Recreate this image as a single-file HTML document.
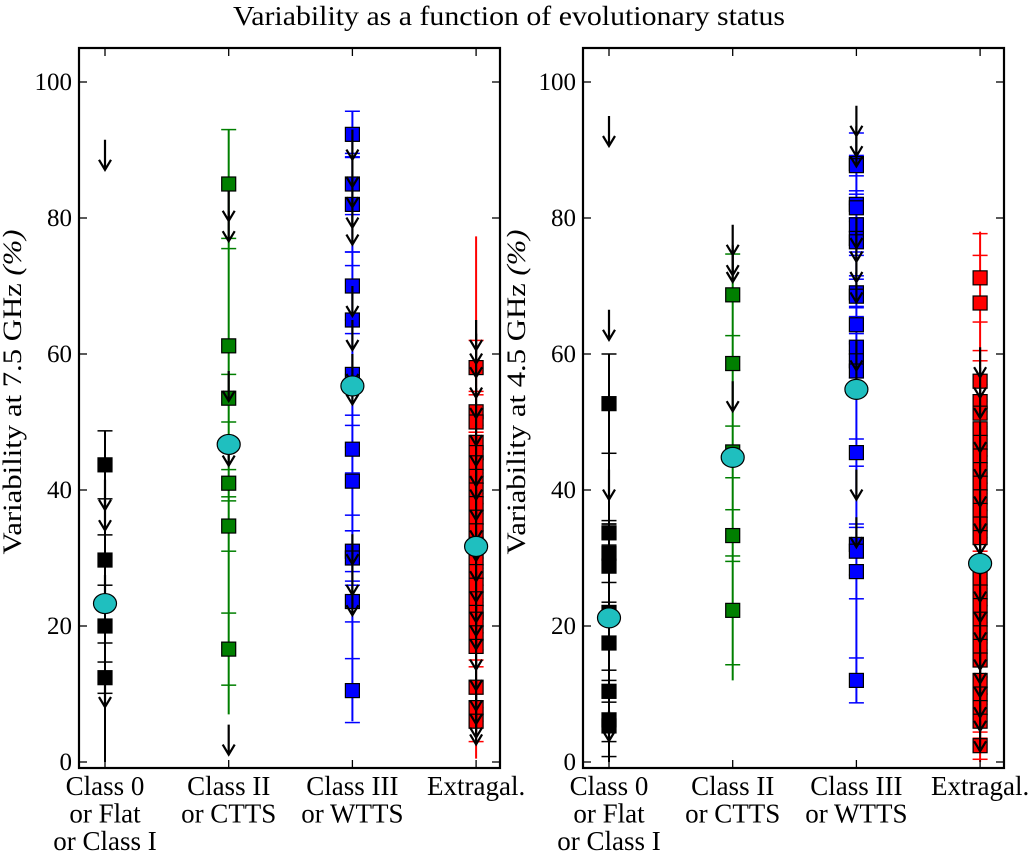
<!DOCTYPE html>
<html><head><meta charset="utf-8">
<style>
body{margin:0;background:#fff;}
svg text, svg tspan{font-family:"Liberation Serif","DejaVu Serif",serif !important;fill:#000;}
</style></head>
<body>
<svg id="chart" width="1036" height="856" viewBox="0 0 1036 856" xmlns="http://www.w3.org/2000/svg" font-family="Liberation Serif, DejaVu Serif, serif">
<text x="509" y="25" font-size="27" font-family="Liberation Serif, serif" text-anchor="middle" textLength="552" lengthAdjust="spacingAndGlyphs">Variability as a function of evolutionary status</text>
</svg>
<script>
const categories = ["Class 0|or Flat|or Class I", "Class II|or CTTS", "Class III|or WTTS", "Extragal."];
const yTicks = [0, 20, 40, 60, 80, 100];
const colors = ["#000000", "#007f00", "#0000ff", "#ff0000"];

// Panel A: 7.5 GHz
const a_sq = [
  [43.7, 29.7, 20.0, 12.4],
  [85.0, 61.2, 53.5, 41.0, 34.7, 16.6],
  [92.3, 85.0, 82.0, 70.0, 65.0, 57.0, 46.0, 41.3, 31.0, 30.0, 23.6, 10.5],
  [58.0, 51.5, 50.0, 47.0, 45.5, 44.0, 42.0, 40.0, 38.0, 36.0, 34.0, 32.0, 30.0, 28.0, 26.0, 24.0, 22.0, 21.0, 19.0, 17.0, 11.0, 8.0, 6.0]
];
const a_err = [
  [5.0, 3.7, 2.5, 2.3],
  [8.0, 14.3, 3.5, 2.0, 3.7, 5.3],
  [3.4, 4.5, 7.0, 5.0, 8.0, 6.0, 3.5, 5.0, 3.0, 4.0, 3.0, 4.7],
  [4.0, 3.0, 2.0, 2.5, 3.0, 2.0, 2.5, 2.0, 3.0, 2.0, 2.5, 2.0, 3.0, 2.0, 2.5, 2.0, 2.0, 2.0, 2.5, 2.0, 3.0, 2.0, 3.0]
];
const a_stem = [[0, 48.7], [7, 93], [6, 95.7], [0.5, 77.3]];
const a_lim = [
  [91.5, 41.5, 38.5, 27.5, 12.5],
  [84.0, 81.0, 57.5, 48.0, 5.5],
  [93.0, 89.0, 86.0, 83.0, 80.5, 70.0, 65.0, 60.0, 57.0, 33.5, 29.0, 26.0],
  [65.0, 63.0, 61.0, 58.0, 55.0, 51.0, 48.0, 45.0, 43.0, 40.0, 37.0, 34.0, 31.0, 28.0, 25.0, 23.0, 21.0, 18.0, 15.0, 12.0, 10.0, 8.0, 7.0]
];
const a_mean = [23.3, 46.7, 55.3, 31.7];

// Panel B: 4.5 GHz
const b_sq = [
  [52.7, 33.7, 30.7, 28.8, 22.0, 17.5, 10.4, 6.2, 5.3],
  [68.7, 58.6, 45.6, 33.3, 22.3],
  [88.0, 87.7, 82.0, 81.5, 79.0, 77.0, 76.5, 69.0, 68.5, 64.3, 61.0, 59.0, 57.5, 45.5, 32.0, 31.0, 28.0, 12.0],
  [71.2, 67.5, 56.0, 53.0, 51.3, 49.0, 47.0, 45.0, 43.0, 41.0, 39.0, 37.0, 35.0, 33.0, 27.0, 25.0, 23.0, 21.0, 19.0, 17.0, 15.0, 12.0, 10.0, 8.0, 6.0, 2.4]
];
const b_err = [
  [7.3, 1.8, 4.3, 6.2, 1.5, 4.0, 1.6, 3.2, 4.5],
  [6.0, 1.0, 3.8, 3.8, 8.0],
  [4.5, 1.5, 2.0, 1.5, 3.0, 2.5, 1.5, 2.0, 3.0, 2.5, 2.0, 2.5, 3.0, 2.0, 3.0, 3.5, 4.0, 3.3],
  [6.5, 7.0, 3.0, 2.5, 2.0, 2.5, 2.0, 2.5, 2.0, 2.5, 2.0, 2.5, 2.0, 2.0, 2.5, 2.0, 2.5, 2.0, 2.5, 2.0, 2.5, 2.0, 2.5, 2.0, 2.5, 2.0]
];
const b_stem = [[0, 60], [12, 75], [8.7, 92.5], [0, 78]];
const b_lim = [
  [95.0, 66.5, 43.0, 7.5],
  [79.0, 76.0, 75.0, 56.0],
  [96.5, 93.5, 92.0, 80.0, 78.0, 75.0, 72.0, 62.0, 58.0, 43.0, 36.0],
  [61.0, 58.0, 55.0, 50.0, 46.0, 42.0, 38.0, 35.0, 32.0, 28.0, 25.0, 22.0, 18.0, 16.0, 14.0, 11.0, 9.0, 6.0]
];
const b_mean = [21.2, 44.8, 54.8, 29.2];

const NS = "http://www.w3.org/2000/svg";
const svg = document.getElementById("chart");
const FF = "Liberation Serif, DejaVu Serif, serif";
function mk(tag, attrs, parent) {
  const e = document.createElementNS(NS, tag);
  for (const k in attrs) e.setAttribute(k, attrs[k]);
  (parent || svg).appendChild(e);
  return e;
}

function drawPanel(p) {
  const L = p.left, R = p.left + 421, T = 48, B = 768;
  const yS = v => 762 - v * 6.8;
  const xS = i => L + 26 + i * 123.7;
  const g = mk("g", {});
  
  

  for (let i = 0; i < categories.length; i++) {
    const x = xS(i), col = colors[i];
    const s = mk("g", {}, g);
    
    
    const st = mk("line", {x1: x, x2: x, y1: yS(p.stem[i][0]), y2: yS(p.stem[i][1]), stroke: col, "stroke-width": 2}, s);
    
    
    p.sq[i].forEach((v, j) => {
      const e = p.err[i][j];
      [v - e, v + e].forEach(c => {
        const cap = mk("line", {x1: x - 7.5, x2: x + 7.5, y1: yS(c), y2: yS(c), stroke: col, "stroke-width": 1.5}, s);
        
        
      });
    });
    p.sq[i].forEach(v => {
      const r = mk("rect", {x: x - 7, y: yS(v) - 7, width: 14, height: 14, fill: col, stroke: "#000", "stroke-width": 1.2}, s);
      
      
    });
    p.lim[i].forEach(v => {
      const y0 = yS(v), y1 = y0 + 30;
      const a = mk("path", {d: `M${x},${y0} L${x},${y1} M${x-6},${y1-10} L${x},${y1} L${x+6},${y1-10}`, stroke: "#000", "stroke-width": 2.2, fill: "none"}, s);
      
      
    });
    const m = mk("ellipse", {cx: x, cy: yS(p.mean[i]), rx: 11.5, ry: 10, fill: "#1fbfbf", stroke: "#000", "stroke-width": 1.2}, s);
    
    
  }

  const fr = mk("rect", {x: L, y: T, width: R - L, height: B - T, fill: "none", stroke: "#000", "stroke-width": 2.2}, g);
  
  

  yTicks.forEach(t => {
    const y = yS(t);
    mk("line", {x1: L, x2: L + 8, y1: y, y2: y, stroke: "#000", "stroke-width": 1.3}, g);
    mk("line", {x1: R, x2: R - 8, y1: y, y2: y, stroke: "#000", "stroke-width": 1.3}, g);
    const tl = mk("text", {x: L - 7, y: y + 8, "font-size": 25, "font-family": FF, "text-anchor": "end"}, g);
    tl.textContent = t;
    
    
  });
  categories.forEach((c, i) => {
    const x = xS(i);
    mk("line", {x1: x, x2: x, y1: B, y2: B - 8, stroke: "#000", "stroke-width": 1.3}, g);
    mk("line", {x1: x, x2: x, y1: T, y2: T + 8, stroke: "#000", "stroke-width": 1.3}, g);
    const tx = mk("text", {x: x, "font-size": 27, "font-family": FF, "text-anchor": "middle"}, g);
    
    
    c.split("|").forEach((ln, k) => {
      const ts = mk("tspan", {x: x, y: 795 + k * 27.5}, tx);
      ts.textContent = ln;
    });
  });
  const yl = mk("text", {x: 0, y: 0, "font-size": 26, "font-family": FF, "text-anchor": "middle", textLength: 325, lengthAdjust: "spacingAndGlyphs", transform: `translate(${L - 58},${(T + B) / 2 - 16}) rotate(-90)`}, g);
  
  
  const t1 = mk("tspan", {}, yl); t1.textContent = p.ylabel + " ";
  const t2 = mk("tspan", {"font-style": "italic"}, yl); t2.textContent = "(%)";
}

drawPanel({id: "a", name: "panel-7-5ghz", left: 79, sq: a_sq, err: a_err, stem: a_stem, lim: a_lim, mean: a_mean, ylabel: "Variability at 7.5 GHz"});
drawPanel({id: "b", name: "panel-4-5ghz", left: 583, sq: b_sq, err: b_err, stem: b_stem, lim: b_lim, mean: b_mean, ylabel: "Variability at 4.5 GHz"});
</script>
</body></html>
